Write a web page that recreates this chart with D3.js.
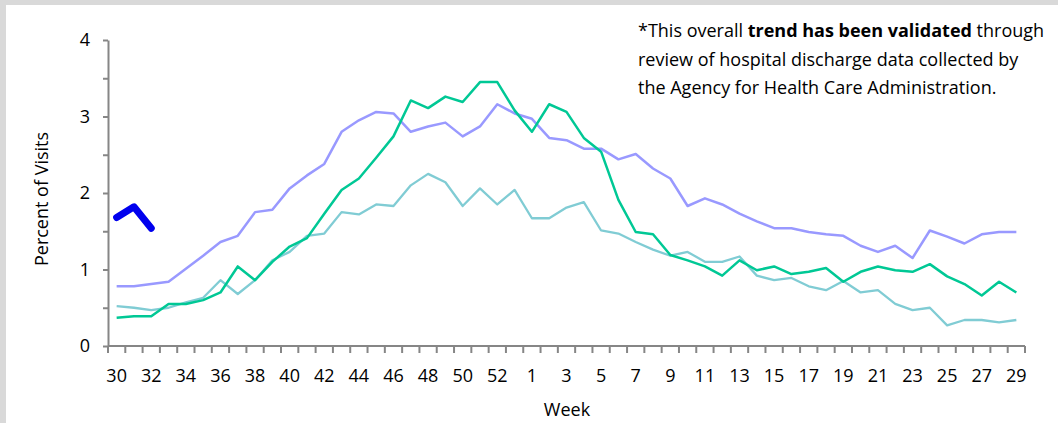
<!DOCTYPE html>
<html>
<head>
<meta charset="utf-8">
<script src="https://cdn.jsdelivr.net/npm/d3@7"></script>
<style>
  html, body { margin: 0; padding: 0; background: #d9d9d9; }
  svg { display: block; font-family: "Open Sans", sans-serif; }
</style>
</head>
<body>
<svg id="chart" width="1058" height="423"></svg>
<script>
// week axis runs from week 30 through week 53, then 1 to 29
const weeks = [30,31,32,33,34,35,36,37,38,39,40,41,42,43,44,45,46,47,48,49,50,51,52,53,
  1,2,3,4,5,6,7,8,9,10,11,12,13,14,15,16,17,18,19,20,21,22,23,24,25,26,27,28,29];
const weekLabels = [30,32,34,36,38,40,42,44,46,48,50,52,1,3,5,7,9,11,13,15,17,19,21,23,25,27,29];
const yTicks = [0,0.5,1,1.5,2,2.5,3,3.5,4];

const purpleSeason = [0.78,0.78,0.81,0.84,1.01,1.18,1.36,1.44,1.75,1.78,2.06,2.23,2.38,2.80,2.95,3.06,3.04,2.80,2.87,2.92,2.74,2.87,3.16,3.04,
  2.97,2.72,2.69,2.58,2.58,2.44,2.51,2.32,2.19,1.83,1.93,1.85,1.73,1.63,1.54,1.54,1.49,1.46,1.44,1.31,1.23,1.31,1.15,1.51,1.43,1.34,1.46,1.49,1.49];
const greenSeason = [0.37,0.39,0.39,0.55,0.55,0.60,0.70,1.04,0.86,1.10,1.30,1.41,1.73,2.04,2.19,2.46,2.74,3.21,3.11,3.26,3.19,3.45,3.45,3.08,
  2.80,3.16,3.06,2.72,2.54,1.91,1.49,1.46,1.19,1.12,1.04,0.92,1.12,0.99,1.04,0.94,0.97,1.02,0.84,0.97,1.04,0.99,0.97,1.07,0.91,0.81,0.66,0.84,0.70];
const tealSeason = [0.52,0.50,0.47,0.50,0.57,0.63,0.86,0.68,0.86,1.12,1.23,1.44,1.47,1.75,1.72,1.85,1.83,2.10,2.25,2.14,1.83,2.06,1.85,2.04,
  1.67,1.67,1.81,1.88,1.51,1.47,1.36,1.26,1.18,1.23,1.10,1.10,1.17,0.92,0.86,0.89,0.78,0.73,0.85,0.70,0.73,0.55,0.47,0.50,0.27,0.34,0.34,0.31,0.34];
const currentSeason = [1.68,1.82,1.54];

const noteLines = [
  [["*This overall ", false], ["trend has been validated", true], [" through", false]],
  [["review of hospital discharge data collected by", false]],
  [["the Agency for Health Care Administration.", false]]
];

const svg = d3.select('#chart');
const axisColor = '#868686';

// white panel inside the grey frame
svg.append('rect').attr('x', 6).attr('y', 5).attr('width', 1052).attr('height', 418).attr('fill', '#fff');

const x = d3.scaleBand().domain(weeks).range([108, 1025]).paddingInner(0).paddingOuter(0);
const y = d3.scaleLinear().domain([0, 4]).range([346, 40]);
const cx = w => x(w) + x.bandwidth() / 2;

// y axis
const yAxis = svg.append('g').attr('transform', 'translate(108,0)')
  .call(d3.axisLeft(y).tickValues(yTicks).tickSize(5).tickSizeOuter(0)
    .tickFormat(d => Number.isInteger(d) ? d : ''));
yAxis.select('.domain').attr('stroke', axisColor).attr('stroke-width', 2);
yAxis.selectAll('.tick line').attr('stroke', axisColor).attr('stroke-width', 2);
yAxis.selectAll('.tick text').attr('font-size', 18).attr('fill', '#000').attr('x', -18)
  .attr('font-family', '"Open Sans", sans-serif');

// x axis: tick marks on category boundaries, labels on every other week
const bounds = weeks.map(w => x(w)).concat([x.range()[1]]);
const xAxis = svg.append('g').attr('transform', 'translate(0,346)');
xAxis.append('line').attr('x1', 108).attr('x2', 1025).attr('stroke', axisColor).attr('stroke-width', 2);
xAxis.selectAll('line.bound').data(bounds).enter().append('line').attr('class', 'bound')
  .attr('x1', d => d).attr('x2', d => d)
  .attr('y1', 0).attr('y2', 7).attr('stroke', axisColor).attr('stroke-width', 2);
xAxis.selectAll('text').data(weekLabels).enter().append('text')
  .attr('x', d => cx(d)).attr('y', 36).attr('text-anchor', 'middle')
  .attr('font-size', 18).attr('fill', '#000').text(d => d);

// axis titles
svg.append('text').attr('transform', 'translate(48,199) rotate(-90)').attr('text-anchor', 'middle')
  .attr('font-size', 18).attr('fill', '#000').text('Percent of Visits');
svg.append('text').attr('x', 567).attr('y', 416).attr('text-anchor', 'middle')
  .attr('font-size', 18).attr('fill', '#000').text('Week');

// season lines
const line = d3.line().x((d, i) => cx(weeks[i])).y(d => y(d));
const series = [
  { values: tealSeason, color: '#80ccd4', width: 2.3 },
  { values: purpleSeason, color: '#9999ff', width: 2.5 },
  { values: greenSeason, color: '#00c895', width: 2.5 },
  { values: currentSeason, color: '#0000ee', width: 7 }
];
svg.append('g').selectAll('path').data(series).enter().append('path')
  .attr('d', d => line(d.values)).attr('fill', 'none')
  .attr('stroke', d => d.color).attr('stroke-width', d => d.width)
  .attr('stroke-linejoin', 'round').attr('stroke-linecap', d => d.width > 5 ? 'round' : 'butt');

// note in the top right
const note = svg.append('text').attr('font-size', 18).attr('fill', '#000');
noteLines.forEach((parts, i) => {
  parts.forEach(([txt, bold], j) => {
    const t = note.append('tspan').text(txt).attr('font-weight', bold ? 700 : 400);
    if (j === 0) t.attr('x', 638).attr('y', 37 + i * 28.5);
  });
});
</script>
</body>
</html>
